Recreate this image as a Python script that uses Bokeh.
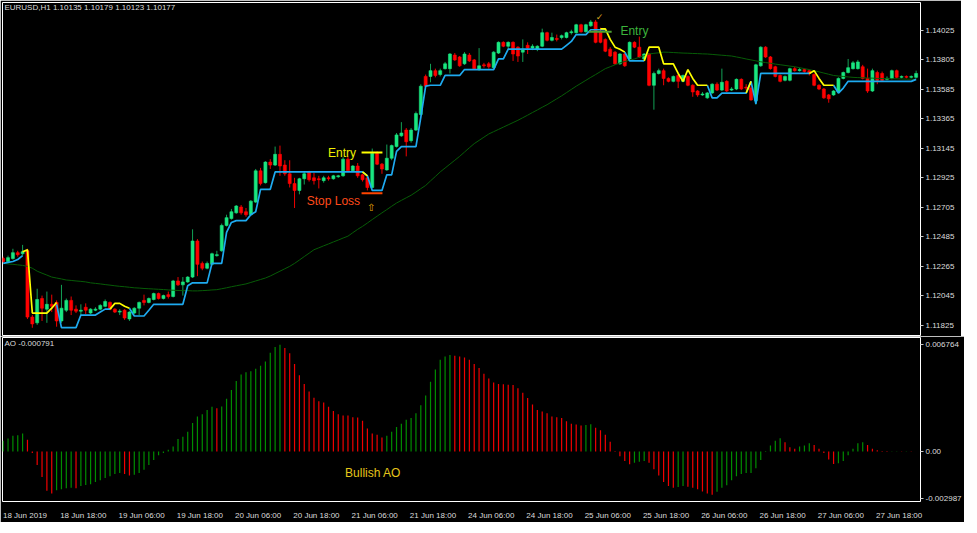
from bokeh.plotting import figure
from bokeh.layouts import column
from bokeh.models import ColumnDataSource, FixedTicker, PrintfTickFormatter, Range1d
from bokeh.core.properties import value
from bokeh.embed import file_html
from bokeh.resources import INLINE

nan = float("nan")

symbol_line = "EURUSD,H1  1.10135 1.10179 1.10123 1.10177"
ao_caption = "AO -0.000791"

# ---------------- EURUSD H1 candles (bar 0 = 18 Jun 2019 06:00) ----------------
opens = [
 1.12324, 1.12302, 1.12324, 1.12368, 1.12360, 1.12382, 1.11888, 1.11845, 1.12026, 1.11947,
 1.11983, 1.11997, 1.11859, 1.11939, 1.12012, 1.11947, 1.11932, 1.11961, 1.11918, 1.11939,
 1.11947, 1.11968, 1.11997, 1.11947, 1.11925, 1.11939, 1.11874, 1.11918, 1.11954, 1.12012,
 1.11997, 1.12019, 1.12063, 1.12026, 1.12055, 1.12041, 1.12157, 1.12128, 1.12150, 1.12186,
 1.12455, 1.12288, 1.12252, 1.12281, 1.12346, 1.12382, 1.12571, 1.12622, 1.12665, 1.12708,
 1.12673, 1.12651, 1.12745, 1.12978, 1.12890, 1.13043, 1.13021, 1.13101, 1.13021, 1.12956,
 1.12883, 1.12832, 1.12919, 1.12970, 1.12926, 1.12919, 1.12905, 1.12926, 1.12919, 1.12934,
 1.12941, 1.13065, 1.12978, 1.13014, 1.12948, 1.12926, 1.12854, 1.13108, 1.13028, 1.12985,
 1.13072, 1.13159, 1.13239, 1.13282, 1.13203, 1.13282, 1.13398, 1.13682, 1.13682, 1.13725,
 1.13696, 1.13740, 1.13740, 1.13841, 1.13827, 1.13776, 1.13841, 1.13805, 1.13733, 1.13768,
 1.13776, 1.13747, 1.13856, 1.13936, 1.13907, 1.13936, 1.13900, 1.13863, 1.13914, 1.13893,
 1.13885, 1.13907, 1.14008, 1.13951, 1.13965, 1.13972, 1.13972, 1.14008, 1.14008, 1.14067,
 1.14015, 1.14059, 1.14088, 1.14015, 1.13958, 1.13885, 1.13863, 1.13776, 1.13849, 1.13812,
 1.13936, 1.13900, 1.13812, 1.13849, 1.13616, 1.13704, 1.13725, 1.13667, 1.13645, 1.13689,
 1.13645, 1.13682, 1.13616, 1.13573, 1.13544, 1.13522, 1.13559, 1.13624, 1.13580, 1.13645,
 1.13580, 1.13588, 1.13660, 1.13602, 1.13595, 1.13500, 1.13761, 1.13900, 1.13827, 1.13754,
 1.13689, 1.13653, 1.13653, 1.13740, 1.13725, 1.13733, 1.13725, 1.13696, 1.13616, 1.13588,
 1.13544, 1.13544, 1.13566, 1.13667, 1.13711, 1.13740, 1.13740, 1.13754, 1.13667, 1.13573,
 1.13711, 1.13704, 1.13660, 1.13667, 1.13725, 1.13675, 1.13682, 1.13675, 1.13675,
]
highs = [
 1.12338, 1.12346, 1.12397, 1.12382, 1.12426, 1.12397, 1.11903, 1.12099, 1.12048, 1.12078,
 1.12055, 1.12012, 1.12128, 1.12026, 1.12041, 1.11975, 1.11983, 1.11990, 1.11954, 1.11961,
 1.11983, 1.12019, 1.12004, 1.11954, 1.11947, 1.11947, 1.11932, 1.11961, 1.12004, 1.12055,
 1.12034, 1.12070, 1.12070, 1.12055, 1.12078, 1.12165, 1.12186, 1.12186, 1.12193, 1.12542,
 1.12469, 1.12302, 1.12302, 1.12368, 1.12382, 1.12585, 1.12651, 1.12694, 1.12723, 1.12723,
 1.12701, 1.12760, 1.12992, 1.13000, 1.13050, 1.13065, 1.13159, 1.13166, 1.13057, 1.13057,
 1.12926, 1.12926, 1.12970, 1.12978, 1.12963, 1.12941, 1.12941, 1.12941, 1.12948, 1.12948,
 1.13079, 1.13086, 1.13021, 1.13036, 1.12956, 1.12934, 1.13144, 1.13123, 1.13036, 1.13174,
 1.13174, 1.13260, 1.13341, 1.13297, 1.13297, 1.13420, 1.13623, 1.13696, 1.13776, 1.13740,
 1.13740, 1.13790, 1.13856, 1.13856, 1.13834, 1.13863, 1.13856, 1.13812, 1.13893, 1.13783,
 1.13790, 1.13870, 1.13943, 1.13943, 1.13943, 1.13943, 1.13907, 1.13958, 1.13936, 1.13922,
 1.13914, 1.14038, 1.14015, 1.14008, 1.13994, 1.13994, 1.14015, 1.14030, 1.14074, 1.14074,
 1.14074, 1.14103, 1.14103, 1.14045, 1.13965, 1.13900, 1.13870, 1.13856, 1.13856, 1.13943,
 1.13943, 1.13979, 1.13856, 1.13856, 1.13718, 1.13740, 1.13740, 1.13675, 1.13689, 1.13696,
 1.13696, 1.13689, 1.13623, 1.13580, 1.13566, 1.13566, 1.13631, 1.13638, 1.13740, 1.13653,
 1.13602, 1.13667, 1.13667, 1.13624, 1.13609, 1.13776, 1.13907, 1.13907, 1.13834, 1.13761,
 1.13696, 1.13689, 1.13747, 1.13754, 1.13747, 1.13740, 1.13733, 1.13704, 1.13623, 1.13595,
 1.13551, 1.13580, 1.13675, 1.13718, 1.13812, 1.13797, 1.13805, 1.13768, 1.13740, 1.13740,
 1.13725, 1.13718, 1.13682, 1.13733, 1.13733, 1.13689, 1.13689, 1.13689, 1.13725,
]
lows = [
 1.12288, 1.12295, 1.12316, 1.12338, 1.12346, 1.11874, 1.11808, 1.11830, 1.11859, 1.11845,
 1.11925, 1.11816, 1.11845, 1.11925, 1.11903, 1.11918, 1.11903, 1.11910, 1.11910, 1.11932,
 1.11939, 1.11961, 1.11939, 1.11918, 1.11903, 1.11867, 1.11859, 1.11910, 1.11903, 1.11975,
 1.11990, 1.12012, 1.12019, 1.12019, 1.12026, 1.12034, 1.12121, 1.12048, 1.12143, 1.12179,
 1.12193, 1.12237, 1.12244, 1.12273, 1.12338, 1.12375, 1.12563, 1.12614, 1.12658, 1.12651,
 1.12636, 1.12644, 1.12738, 1.12869, 1.12883, 1.12992, 1.13014, 1.12941, 1.12941, 1.12854,
 1.12701, 1.12803, 1.12876, 1.12898, 1.12876, 1.12847, 1.12890, 1.12905, 1.12912, 1.12926,
 1.12934, 1.12970, 1.12970, 1.12926, 1.12898, 1.12832, 1.12847, 1.13021, 1.12956, 1.12978,
 1.13057, 1.13152, 1.13232, 1.13086, 1.13188, 1.13275, 1.13391, 1.13602, 1.13638, 1.13675,
 1.13682, 1.13733, 1.13704, 1.13797, 1.13754, 1.13768, 1.13790, 1.13733, 1.13725, 1.13747,
 1.13740, 1.13740, 1.13849, 1.13900, 1.13885, 1.13797, 1.13790, 1.13790, 1.13849, 1.13878,
 1.13870, 1.13900, 1.13943, 1.13943, 1.13943, 1.13958, 1.13965, 1.13994, 1.14001, 1.14008,
 1.14008, 1.14052, 1.13929, 1.13929, 1.13863, 1.13827, 1.13768, 1.13768, 1.13754, 1.13805,
 1.13893, 1.13820, 1.13805, 1.13609, 1.13434, 1.13696, 1.13616, 1.13638, 1.13638, 1.13595,
 1.13638, 1.13609, 1.13530, 1.13530, 1.13537, 1.13515, 1.13551, 1.13573, 1.13573, 1.13566,
 1.13573, 1.13580, 1.13580, 1.13580, 1.13500, 1.13471, 1.13754, 1.13820, 1.13733, 1.13675,
 1.13638, 1.13645, 1.13645, 1.13718, 1.13718, 1.13711, 1.13689, 1.13609, 1.13580, 1.13515,
 1.13486, 1.13537, 1.13559, 1.13660, 1.13704, 1.13733, 1.13733, 1.13660, 1.13559, 1.13566,
 1.13624, 1.13645, 1.13653, 1.13660, 1.13667, 1.13667, 1.13667, 1.13667, 1.13667,
]
closes = [
 1.12302, 1.12331, 1.12368, 1.12353, 1.12375, 1.11888, 1.11837, 1.12019, 1.11954, 1.11983,
 1.11968, 1.11859, 1.11954, 1.12012, 1.11939, 1.11932, 1.11939, 1.11939, 1.11947, 1.11947,
 1.11975, 1.12004, 1.11947, 1.11925, 1.11932, 1.11881, 1.11925, 1.11954, 1.11997, 1.11997,
 1.12026, 1.12063, 1.12026, 1.12048, 1.12041, 1.12157, 1.12128, 1.12150, 1.12186, 1.12455,
 1.12281, 1.12252, 1.12288, 1.12360, 1.12353, 1.12571, 1.12629, 1.12673, 1.12716, 1.12665,
 1.12651, 1.12752, 1.12978, 1.12883, 1.13043, 1.13021, 1.13101, 1.13014, 1.12956, 1.12883,
 1.12832, 1.12919, 1.12956, 1.12912, 1.12905, 1.12912, 1.12926, 1.12919, 1.12941, 1.12941,
 1.13065, 1.12978, 1.13014, 1.12941, 1.12912, 1.12854, 1.13108, 1.13028, 1.12992, 1.13072,
 1.13166, 1.13246, 1.13260, 1.13195, 1.13282, 1.13405, 1.13609, 1.13609, 1.13725, 1.13689,
 1.13725, 1.13776, 1.13849, 1.13805, 1.13761, 1.13849, 1.13797, 1.13740, 1.13761, 1.13761,
 1.13754, 1.13863, 1.13936, 1.13907, 1.13936, 1.13849, 1.13834, 1.13885, 1.13893, 1.13907,
 1.13907, 1.14008, 1.13951, 1.13972, 1.13958, 1.13986, 1.14008, 1.14015, 1.14067, 1.14015,
 1.14067, 1.14088, 1.13936, 1.13936, 1.13870, 1.13834, 1.13776, 1.13849, 1.13761, 1.13936,
 1.13900, 1.13827, 1.13849, 1.13616, 1.13704, 1.13725, 1.13667, 1.13645, 1.13682, 1.13645,
 1.13689, 1.13616, 1.13566, 1.13544, 1.13551, 1.13559, 1.13624, 1.13580, 1.13638, 1.13573,
 1.13588, 1.13660, 1.13588, 1.13595, 1.13507, 1.13768, 1.13900, 1.13827, 1.13740, 1.13682,
 1.13645, 1.13682, 1.13740, 1.13725, 1.13733, 1.13718, 1.13704, 1.13616, 1.13588, 1.13522,
 1.13515, 1.13573, 1.13667, 1.13711, 1.13747, 1.13783, 1.13790, 1.13667, 1.13573, 1.13725,
 1.13653, 1.13653, 1.13667, 1.13725, 1.13675, 1.13682, 1.13675, 1.13682, 1.13704,
]

# ---------------- trailing stop (blue = up trend, yellow = down trend) ----------------
trail_up = [
 1.12288, 1.12295, 1.12302, 1.12317, 1.12346, nan, nan, nan, nan, nan,
 nan, 1.11983, 1.11809, 1.11809, 1.11809, 1.11809, 1.11903, 1.11903, 1.11903, 1.11903,
 1.11925, 1.11947, 1.11947, nan, nan, nan, 1.11954, 1.11896, 1.11896, 1.11896,
 1.11939, 1.11983, 1.11983, 1.11983, 1.11983, 1.11983, 1.11983, 1.11983, 1.12121, 1.12143,
 1.12143, 1.12143, 1.12143, 1.12288, 1.12288, 1.12288, 1.12520, 1.12593, 1.12607, 1.12607,
 1.12607, 1.12651, 1.12673, 1.12840, 1.12840, 1.12840, 1.12970, 1.12970, 1.12970, 1.12970,
 1.12970, 1.12970, 1.12970, 1.12970, 1.12970, 1.12970, 1.12970, 1.12970, 1.12970, 1.12970,
 1.12970, 1.12970, 1.12970, 1.12970, 1.12970, 1.12941, 1.12832, 1.12832, 1.12832, 1.12948,
 1.12948, 1.13123, 1.13159, 1.13159, 1.13159, 1.13159, 1.13377, 1.13609, 1.13616, 1.13616,
 1.13616, 1.13689, 1.13689, 1.13689, 1.13689, 1.13733, 1.13733, 1.13733, 1.13733, 1.13733,
 1.13733, 1.13733, 1.13812, 1.13812, 1.13885, 1.13885, 1.13885, 1.13885, 1.13885, 1.13885,
 1.13885, 1.13885, 1.13885, 1.13885, 1.13885, 1.13885, 1.13914, 1.13943, 1.13994, 1.13994,
 1.13994, 1.14030, 1.14030, 1.14030, 1.14030, nan, nan, nan, 1.13863, 1.13798,
 1.13798, 1.13798, 1.13798, nan, nan, nan, nan, nan, nan, nan,
 nan, nan, nan, nan, nan, 1.13616, 1.13522, 1.13522, 1.13558, 1.13558,
 1.13558, 1.13558, 1.13558, 1.13558, 1.13645, 1.13478, 1.13704, 1.13704, 1.13704, 1.13704,
 1.13704, 1.13704, 1.13704, 1.13704, 1.13704, 1.13704, 1.13704, nan, nan, nan,
 nan, 1.13616, 1.13558, 1.13595, 1.13645, 1.13645, 1.13645, 1.13645, 1.13645, 1.13645,
 1.13645, 1.13645, 1.13645, 1.13645, 1.13645, 1.13645, 1.13645, 1.13645, 1.13660,
]
trail_dn = [
 nan, nan, nan, nan, 1.12375, 1.12389, 1.11918, 1.11918, 1.11918, 1.11918,
 1.11954, 1.11997, nan, nan, nan, nan, nan, nan, nan, nan,
 nan, nan, 1.11947, 1.11990, 1.11990, 1.11968, 1.11954, nan, nan, nan,
 nan, nan, nan, nan, nan, nan, nan, nan, nan, nan,
 nan, nan, nan, nan, nan, nan, nan, nan, nan, nan,
 nan, nan, nan, nan, nan, nan, nan, nan, nan, nan,
 nan, nan, nan, nan, nan, nan, nan, nan, nan, nan,
 nan, nan, nan, nan, 1.12970, 1.12941, nan, nan, nan, nan,
 nan, nan, nan, nan, nan, nan, nan, nan, nan, nan,
 nan, nan, nan, nan, nan, nan, nan, nan, nan, nan,
 nan, nan, nan, nan, nan, nan, nan, nan, nan, nan,
 nan, nan, nan, nan, nan, nan, nan, nan, nan, nan,
 nan, nan, nan, 1.14037, 1.14037, 1.13958, 1.13900, 1.13885, 1.13863, nan,
 nan, nan, 1.13798, 1.13900, 1.13900, 1.13900, 1.13776, 1.13776, 1.13776, 1.13704,
 1.13645, 1.13733, 1.13667, 1.13616, 1.13616, 1.13616, nan, nan, nan, nan,
 nan, nan, nan, 1.13558, 1.13645, nan, nan, nan, nan, nan,
 nan, nan, nan, nan, nan, nan, 1.13704, 1.13725, 1.13667, 1.13616,
 1.13616, 1.13616, nan, nan, nan, nan, nan, nan, nan, nan,
 nan, nan, nan, nan, nan, nan, nan, nan, nan,
]

# ---------------- slow moving average (dark green) ----------------
ma_slow = [
 1.12288, 1.12284, 1.12281, 1.12277, 1.12273, 1.12266, 1.12252, 1.12230, 1.12215, 1.12201,
 1.12186, 1.12179, 1.12172, 1.12164, 1.12161, 1.12157, 1.12154, 1.12150, 1.12143, 1.12139,
 1.12135, 1.12130, 1.12126, 1.12121, 1.12117, 1.12114, 1.12110, 1.12106, 1.12104, 1.12101,
 1.12099, 1.12097, 1.12095, 1.12093, 1.12090, 1.12088, 1.12086, 1.12085, 1.12085, 1.12083,
 1.12083, 1.12085, 1.12087, 1.12090, 1.12092, 1.12099, 1.12106, 1.12114, 1.12121, 1.12128,
 1.12135, 1.12146, 1.12157, 1.12168, 1.12179, 1.12194, 1.12212, 1.12230, 1.12248, 1.12266,
 1.12288, 1.12313, 1.12339, 1.12364, 1.12390, 1.12404, 1.12419, 1.12433, 1.12448, 1.12462,
 1.12477, 1.12491, 1.12517, 1.12542, 1.12564, 1.12589, 1.12615, 1.12640, 1.12665, 1.12689,
 1.12714, 1.12738, 1.12758, 1.12777, 1.12796, 1.12820, 1.12845, 1.12869, 1.12903, 1.12936,
 1.12970, 1.12999, 1.13028, 1.13057, 1.13086, 1.13118, 1.13150, 1.13181, 1.13205, 1.13229,
 1.13253, 1.13270, 1.13287, 1.13304, 1.13321, 1.13338, 1.13355, 1.13374, 1.13393, 1.13413,
 1.13432, 1.13452, 1.13471, 1.13493, 1.13515, 1.13537, 1.13561, 1.13585, 1.13609, 1.13631,
 1.13653, 1.13675, 1.13696, 1.13718, 1.13740, 1.13754, 1.13769, 1.13783, 1.13793, 1.13803,
 1.13812, 1.13825, 1.13836, 1.13849, 1.13854, 1.13858, 1.13863, 1.13862, 1.13860, 1.13858,
 1.13856, 1.13855, 1.13853, 1.13852, 1.13850, 1.13849, 1.13846, 1.13843, 1.13840, 1.13837,
 1.13834, 1.13827, 1.13820, 1.13812, 1.13805, 1.13798, 1.13791, 1.13785, 1.13780, 1.13774,
 1.13769, 1.13764, 1.13759, 1.13754, 1.13747, 1.13740, 1.13733, 1.13725, 1.13716, 1.13707,
 1.13698, 1.13689, 1.13685, 1.13682, 1.13678, 1.13675, 1.13673, 1.13672, 1.13670, 1.13669,
 1.13667, 1.13666, 1.13665, 1.13665, 1.13664, 1.13663, 1.13662, 1.13661, 1.13660,
]

# ---------------- Awesome Oscillator ----------------
ao = [
 0.000689, 0.000830, 0.000996, 0.001033, 0.001138, 0.000750, -0.000092, -0.000849, -0.001611, -0.002491,
 -0.002657, -0.002448, -0.002386, -0.002325, -0.002288, -0.002325, -0.002183, -0.002122, -0.002079, -0.001937,
 -0.001814, -0.001673, -0.001568, -0.001427, -0.001365, -0.001427, -0.001525, -0.001464, -0.001365, -0.001156,
 -0.000849, -0.000541, -0.000234, -0.000092, 0.000111, 0.000320, 0.000787, 0.000935, 0.001261, 0.001814,
 0.002226, 0.002368, 0.002632, 0.002841, 0.002737, 0.002850, 0.003352, 0.003905, 0.004477, 0.004889,
 0.005031, 0.005092, 0.005240, 0.005443, 0.005707, 0.006261, 0.006630, 0.006764, 0.006568, 0.006224,
 0.005547, 0.004828, 0.004274, 0.003801, 0.003413, 0.003186, 0.003106, 0.002841, 0.002571, 0.002368,
 0.002288, 0.002280, 0.002165, 0.002160, 0.001956, 0.001464, 0.001138, 0.001058, 0.000892, 0.000996,
 0.001261, 0.001550, 0.001753, 0.002017, 0.002122, 0.002429, 0.002940, 0.003555, 0.004416, 0.005197,
 0.005812, 0.006015, 0.006119, 0.006076, 0.006015, 0.005953, 0.005812, 0.005547, 0.005301, 0.004932,
 0.004625, 0.004379, 0.004274, 0.004270, 0.004231, 0.004213, 0.004010, 0.003721, 0.003395, 0.002983,
 0.002632, 0.002534, 0.002429, 0.002226, 0.002165, 0.002122, 0.001919, 0.001753, 0.001710, 0.001648,
 0.001679, 0.001722, 0.001507, 0.001341, 0.001058, 0.000627, 0.000031, -0.000295, -0.000603, -0.000812,
 -0.000707, -0.000646, -0.000603, -0.000707, -0.001119, -0.001525, -0.001937, -0.002183, -0.002288, -0.002245,
 -0.002183, -0.002226, -0.002288, -0.002386, -0.002534, -0.002657, -0.002737, -0.002552, -0.002288, -0.002140,
 -0.001814, -0.001568, -0.001427, -0.001365, -0.001353, -0.001058, -0.000541, 0.000031, 0.000381, 0.000689,
 0.000849, 0.000584, 0.000277, 0.000172, 0.000320, 0.000381, 0.000523, 0.000418, 0.000172, -0.000092,
 -0.000504, -0.000787, -0.000750, -0.000603, -0.000234, 0.000172, 0.000523, 0.000584, 0.000418, 0.000172,
 0.000074, 0.000031, -0.000031, -0.000018, 0.000018, 0.000012, 0.000018, 0.000012, 0.000006,
]

price_ticks = [1.14025, 1.13805, 1.13585, 1.13365, 1.13145, 1.12925, 1.12705,
               1.12485, 1.12265, 1.12045, 1.11825]
ao_ticks = [0.006764, 0.0, -0.002987]
ao_tick_labels = ["0.006764", "0.00", "-0.002987"]
time_bars = [0, 12, 24, 36, 48, 60, 72, 84, 96, 108, 120, 132, 144, 156, 168, 180]
time_labels = ["18 Jun 2019", "18 Jun 18:00", "19 Jun 06:00", "19 Jun 18:00",
               "20 Jun 06:00", "20 Jun 18:00", "21 Jun 06:00", "21 Jun 18:00",
               "24 Jun 06:00", "24 Jun 18:00", "25 Jun 06:00", "25 Jun 18:00",
               "26 Jun 06:00", "26 Jun 18:00", "27 Jun 06:00", "27 Jun 18:00"]

# chart objects (bar index, price)
buy_entry_price = 1.13115
buy_stop_price = 1.12811
buy_bars = [73.8, 78.1]
buy_entry_text = (66.9, 1.13108)
buy_stop_text = (62.5, 1.12756)
buy_arrow = (75.8, 1.12702)
sell_entry_price = 1.14015
sell_bars = [120.6, 125.3]
sell_entry_text = (127.1, 1.14023)
sell_check = (122.8, 1.14128)
ao_note = (70.4, -0.001384)

assert all(len(a) == len(closes) for a in (opens, highs, lows, trail_up, trail_dn, ma_slow, ao))

# ---------------- styling ----------------
BG = "black"
AXIS_TXT = "#dcdcdc"
FONT = "Liberation Sans"
BULL_BODY, BULL_WICK = "#19e680", "#12a055"
BEAR_BODY, BEAR_WICK = "#ff0000", "#ee0000"

n = len(closes)
idx = list(range(n))
bull = [c >= o for o, c in zip(opens, closes)]
src = ColumnDataSource(dict(
    x=idx, low=lows, high=highs,
    top=[max(o, c) for o, c in zip(opens, closes)],
    bottom=[min(o, c) for o, c in zip(opens, closes)],
    body=[BULL_BODY if b else BEAR_BODY for b in bull],
    wick=[BULL_WICK if b else BEAR_WICK for b in bull],
))

xr = Range1d(-0.14, 188.9)


def style(p):
    p.background_fill_color = BG
    p.border_fill_color = BG
    p.outline_line_color = "white"
    p.outline_line_width = 1
    p.grid.visible = False
    ax = p.yaxis[0]
    ax.axis_line_color = None
    ax.major_tick_line_color = "#c8c8c8"
    ax.major_tick_out = 3
    ax.major_tick_in = 0
    ax.minor_tick_line_color = None
    ax.major_label_standoff = 2
    ax.major_label_text_color = AXIS_TXT
    ax.major_label_text_font = FONT
    ax.major_label_text_font_size = "8px"


p1 = figure(frame_width=918, frame_height=334, x_range=xr,
            y_range=Range1d(1.11743, 1.14233), title=None,
            output_backend="svg", toolbar_location=None,
            x_axis_location=None, y_axis_location="right",
            min_border_left=2, min_border_right=41,
            min_border_top=2, min_border_bottom=0)
style(p1)
p1.yaxis.ticker = FixedTicker(ticks=price_ticks)
p1.yaxis.formatter = PrintfTickFormatter(format="%.5f")

p1.segment(x0="x", y0="low", x1="x", y1="high", line_color="wick", line_width=1, source=src)
p1.vbar(x="x", width=0.62, top="top", bottom="bottom", fill_color="body",
        line_color="body", line_width=0.6, source=src)
p1.line(idx, ma_slow, line_color="#075c07", line_width=1)
p1.line(idx, trail_up, line_color="#1eaaf0", line_width=1.7)
p1.line(idx, trail_dn, line_color="#ffff00", line_width=1.7)

# trade annotations
p1.segment(x0=[buy_bars[0]], y0=[buy_entry_price], x1=[buy_bars[1]], y1=[buy_entry_price],
           line_color="#ffff00", line_width=2)
p1.segment(x0=[buy_bars[0]], y0=[buy_stop_price], x1=[buy_bars[1]], y1=[buy_stop_price],
           line_color="#ff4500", line_width=2)
p1.segment(x0=[sell_bars[0]], y0=[sell_entry_price], x1=[sell_bars[1]], y1=[sell_entry_price],
           line_color="#4ea032", line_width=2)
p1.text(x=[buy_entry_text[0]], y=[buy_entry_text[1]], text=["Entry"], text_color="#f0f000",
        text_font=value(FONT), text_font_size="12px", text_align="left", text_baseline="alphabetic")
p1.text(x=[buy_stop_text[0]], y=[buy_stop_text[1]], text=["Stop Loss"], text_color="#ff4a1a",
        text_font=value(FONT), text_font_size="12px", text_align="left", text_baseline="alphabetic")
p1.text(x=[sell_entry_text[0]], y=[sell_entry_text[1]], text=["Entry"], text_color="#3cb43c",
        text_font=value(FONT), text_font_size="12px", text_align="left", text_baseline="alphabetic")
p1.text(x=[buy_arrow[0]], y=[buy_arrow[1]], text=["\u21e7"], text_color="#e0a800",
        text_font=value("DejaVu Sans"), text_font_size="10px", text_align="center", text_baseline="middle")
p1.text(x=[sell_check[0]], y=[sell_check[1]], text=["\u2713"], text_color="#daa520",
        text_font=value("DejaVu Sans"), text_font_size="9px", text_align="center", text_baseline="middle")
p1.text(x=[0.26], y=[1.14192], text=[symbol_line], text_color=AXIS_TXT,
        text_font=value(FONT), text_font_size="8px", text_align="left", text_baseline="middle")

# ---------------- AO panel ----------------
ao_colors = ["#008c00"] + ["#008c00" if ao[i] > ao[i - 1] else "#f00000" for i in range(1, n)]
p2 = figure(frame_width=918, frame_height=164, x_range=xr,
            y_range=Range1d(-0.003167, 0.007226), title=None,
            output_backend="svg", toolbar_location=None,
            x_axis_location="below", y_axis_location="right",
            min_border_left=2, min_border_right=41,
            min_border_top=1, min_border_bottom=16)
style(p2)
p2.yaxis.ticker = FixedTicker(ticks=ao_ticks)
p2.yaxis.formatter = PrintfTickFormatter(format="%.6f")
p2.yaxis.major_label_overrides = dict(zip(ao_ticks, ao_tick_labels))

label_shift = 4.5  # MT4 writes time labels to the right of their bar
xt = [b + label_shift for b in time_bars]
xa = p2.xaxis[0]
xa.ticker = FixedTicker(ticks=xt)
xa.major_label_overrides = dict(zip(xt, time_labels))
xa.axis_line_color = None
xa.major_tick_line_color = None
xa.minor_tick_line_color = None
xa.major_label_standoff = 3
xa.major_label_text_color = AXIS_TXT
xa.major_label_text_font = FONT
xa.major_label_text_font_size = "8px"

p2.segment(x0=idx, y0=[0.0] * n, x1=idx, y1=ao, line_color=ao_colors, line_width=1.2)
p2.text(x=[0.26], y=[0.006839], text=[ao_caption], text_color=AXIS_TXT,
        text_font=value(FONT), text_font_size="8px", text_align="left", text_baseline="middle")
p2.text(x=[ao_note[0]], y=[ao_note[1]], text=["Bullish AO"], text_color="#e6c619",
        text_font=value(FONT), text_font_size="12px", text_align="left", text_baseline="alphabetic")

layout = column(p1, p2, spacing=0)
open("out.html", "w").write(file_html(layout, INLINE))
